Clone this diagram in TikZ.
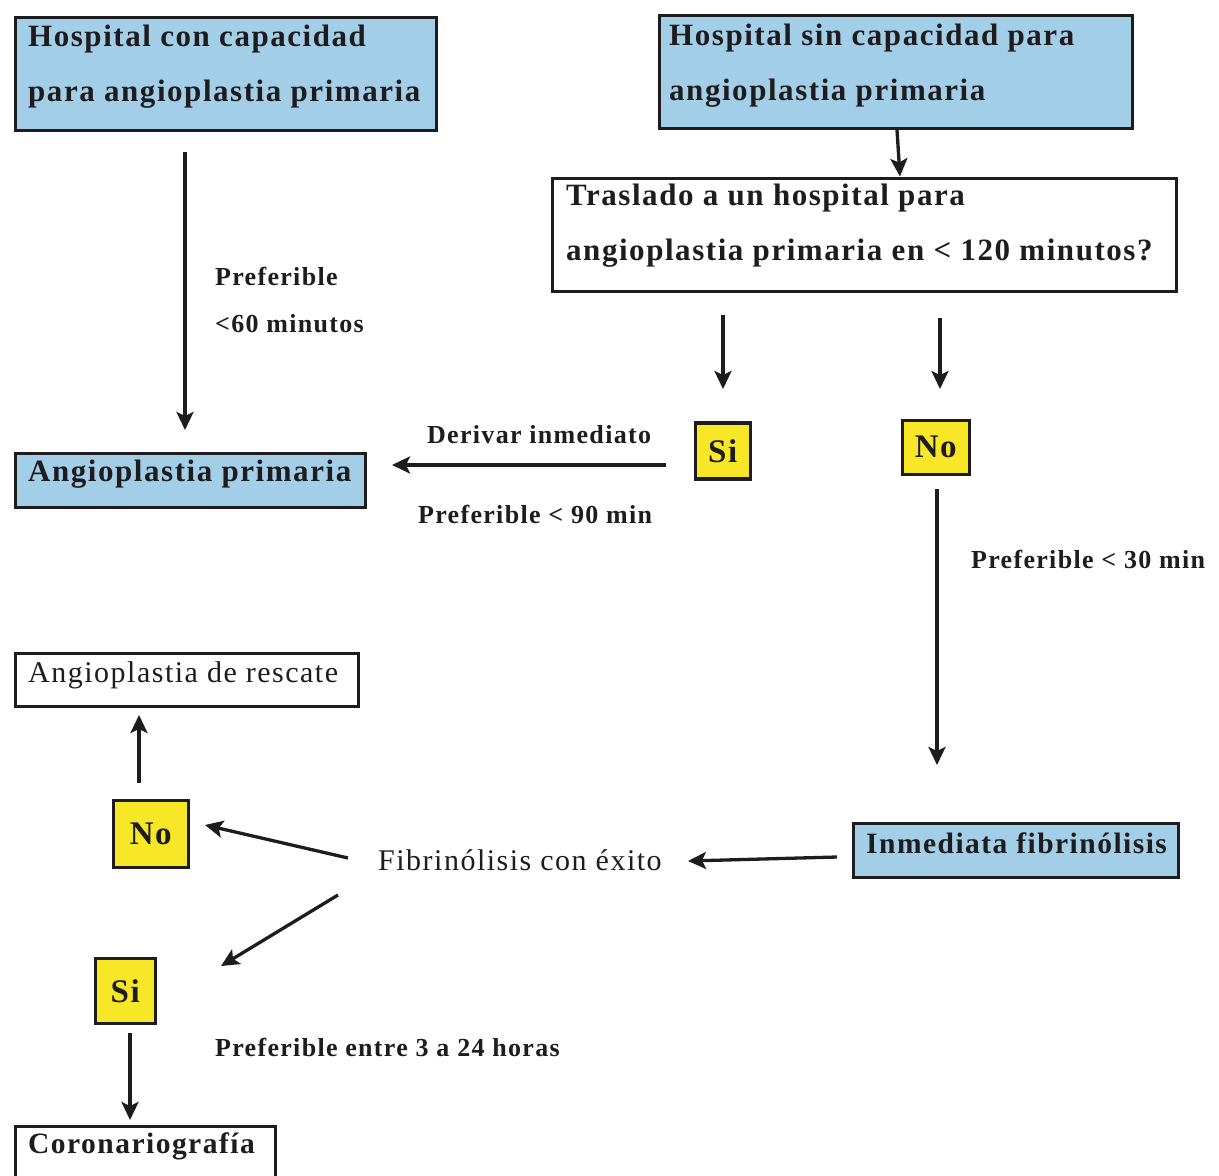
\documentclass[tikz,border=0pt]{standalone}
\usepackage{fontspec}
\setmainfont{Liberation Serif}[LetterSpace=5]
\usetikzlibrary{arrows.meta}
\definecolor{ink}{RGB}{30,28,29}
\definecolor{boxblue}{RGB}{163,206,232}
\definecolor{boxyellow}{RGB}{248,231,38}
\tikzset{
 box/.style={draw=ink, line width=3.5pt, anchor=north west, inner sep=0pt},
 bluebox/.style={box, fill=boxblue},
 ybox/.style={box, fill=boxyellow, text=ink},
 arr/.style={draw=ink, line width=3.3pt, -{Stealth[length=18pt,width=17pt,inset=4pt]}},
 txt/.style={anchor=base west, inner sep=0pt, text=ink},
 big/.style={font=\fontsize{31}{36}\selectfont\bfseries},
 mid/.style={font=\fontsize{29.5}{36}\selectfont\bfseries},
 yn/.style={font=\fontsize{33}{36}\selectfont\bfseries},
 lab/.style={font=\fontsize{26}{30}\selectfont\bfseries},
 reg/.style={font=\fontsize{30}{36}\selectfont},
}
\begin{document}
\begin{tikzpicture}[x=1pt,y=-1pt]
\useasboundingbox (0,0) rectangle (1219,1176);
% boxes
\node[bluebox, minimum width=421, minimum height=113] (h1) at (13.5,15.5) {};
\node[bluebox, minimum width=473, minimum height=113] (h2) at (657.5,13.5) {};
\node[box, fill=white, minimum width=624, minimum height=113] (q) at (550.5,176.5) {};
\node[ybox, yn, minimum width=55, minimum height=56] (si1) at (693.5,421) {Si};
\node[ybox, yn, minimum width=67, minimum height=54] (no1) at (900.5,418.5) {No};
\node[bluebox, minimum width=350, minimum height=54] (ap) at (13.5,451.5) {};
\node[box, fill=white, minimum width=343, minimum height=53] (res) at (13.5,651.5) {};
\node[bluebox, minimum width=325, minimum height=54] (fib) at (851.5,821.5) {};
\node[ybox, yn, minimum width=75, minimum height=67] (no2) at (111.5,798.5) {No};
\node[ybox, yn, minimum width=60, minimum height=65] (si2) at (93.5,956.5) {Si};
\node[box, fill=white, minimum width=260, minimum height=70] (cor) at (13.5,1124.5) {};
% texts
\node[txt, big] (t1a) at (28,46) {Hospital con capacidad};
\node[txt, big] (t1b) at (28,101) {para angioplastia primaria};
\node[txt, big] (t2a) at (669,45) {Hospital sin capacidad para};
\node[txt, big] (t2b) at (669,100) {angioplastia primaria};
\node[txt, big] (t3a) at (566,205) {Traslado a un hospital para};
\node[txt, big] (t3b) at (566,260) {angioplastia primaria en < 120 minutos?};
\node[txt, big] (tap) at (28,481) {Angioplastia primaria};
\node[txt, reg] (tres) at (28,682) {Angioplastia de rescate};
\node[txt, mid] (tfib) at (866,853) {Inmediata fibrinólisis};
\node[txt, mid] (tcor) at (28,1153) {Coronariografía};
\node[txt, reg] (exito) at (378,870) {Fibrinólisis con éxito};
% labels
\node[txt, lab] (l1) at (215,285) {Preferible};
\node[txt, lab] (l2) at (215,332) {<60 minutos};
\node[txt, lab] (l3) at (427,443) {Derivar inmediato};
\node[txt, lab] (l4) at (418,523) {Preferible < 90 min};
\node[txt, lab] (l5) at (971,568) {Preferible < 30 min};
\node[txt, lab] (l6) at (215,1056) {Preferible entre 3 a 24 horas};
% arrow end points
\coordinate (a1s) at (185,152); \coordinate (a1e) at (185,430);
\coordinate (a3s) at (723,315); \coordinate (a3e) at (723,389);
\coordinate (a4s) at (940,318); \coordinate (a4e) at (940,389);
\coordinate (a5s) at (666,465); \coordinate (a5e) at (392,465);
\coordinate (a6s) at (937,489); \coordinate (a6e) at (937,765);
\coordinate (a7s) at (837,857); \coordinate (a7e) at (688,861);
\coordinate (a8s) at (348,858); \coordinate (a8e) at (205,825);
\coordinate (a9s) at (139,783); \coordinate (a9e) at (139,715);
\coordinate (a10s) at (338,895); \coordinate (a10e) at (221,966);
\coordinate (a11s) at (130,1033); \coordinate (a11e) at (130,1120);
% arrows
\draw[arr] (a1s) -- (a1e);
\draw[arr] (h2.south -| 897,0) -- (q.north -| 900,0);
\draw[arr] (a3s) -- (a3e);
\draw[arr] (a4s) -- (a4e);
\draw[arr] (a5s) -- (a5e);
\draw[arr] (a6s) -- (a6e);
\draw[arr] (a7s) -- (a7e);
\draw[arr] (a8s) -- (a8e);
\draw[arr] (a9s) -- (a9e);
\draw[arr] (a10s) -- (a10e);
\draw[arr] (a11s) -- (a11e);
\end{tikzpicture}
\end{document}
